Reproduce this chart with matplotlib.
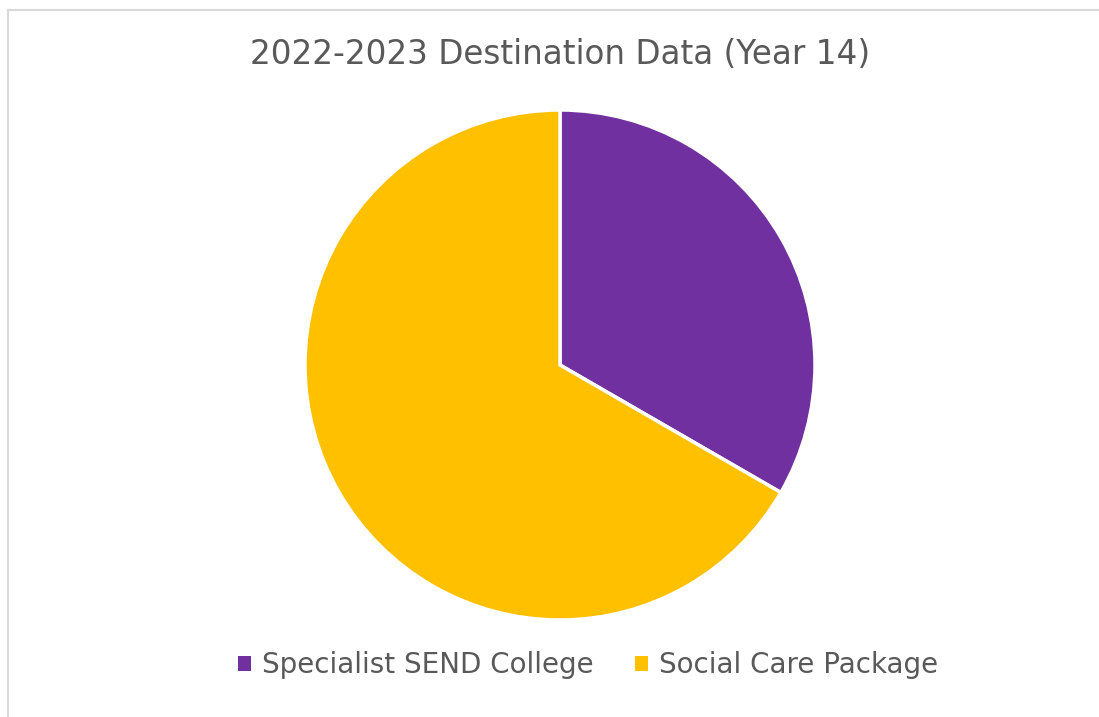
import matplotlib
matplotlib.use('Agg')
import matplotlib.pyplot as plt
from matplotlib.lines import Line2D
from matplotlib.patches import Patch

# 数据
labels = ['Specialist SEND College', 'Social Care Package']
values = [1, 2]
colors = ['#7030A0', '#FFC000']
title = '2022-2023 Destination Data (Year 14)'

W, H = 1099, 717
fig = plt.figure(figsize=(W / 100, H / 100), dpi=100)
fig.patch.set_facecolor('white')

# 饼图区域：圆心约 (560, 365)，半径约 255px
cx, cy, r = 560, 365, 255
ax = fig.add_axes([(cx - r) / W, 1 - (cy + r) / H, 2 * r / W, 2 * r / H])
ax.pie(values, colors=colors, startangle=90, counterclock=False,
       wedgeprops=dict(edgecolor='white', linewidth=2.5))
ax.set_xlim(-1, 1)
ax.set_ylim(-1, 1)
ax.set_aspect('equal')
ax.axis('off')

# 标题
fig.text(cx / W, 1 - 55 / H, title, ha='center', va='center',
         fontsize=23.5, color='#595959', family='DejaVu Sans')

# 图例
handles = [Patch(facecolor=c, edgecolor='none') for c in colors]
fig.legend(handles, labels, loc='center', bbox_to_anchor=(588 / W, 1 - 665 / H),
           ncol=2, frameon=False, fontsize=20, labelcolor='#595959',
           handlelength=0.45, handleheight=0.45, handletextpad=0.4, columnspacing=1.5)

# 外框（左边和上边的浅灰线）
fig.add_artist(Line2D([7.5 / W, 7.5 / W], [0, 1 - 9.5 / H], color='#D9D9D9', lw=1.5))
fig.add_artist(Line2D([7.5 / W, 1], [1 - 9.5 / H, 1 - 9.5 / H], color='#D9D9D9', lw=1.5))

fig.savefig('out.png', dpi=100)
